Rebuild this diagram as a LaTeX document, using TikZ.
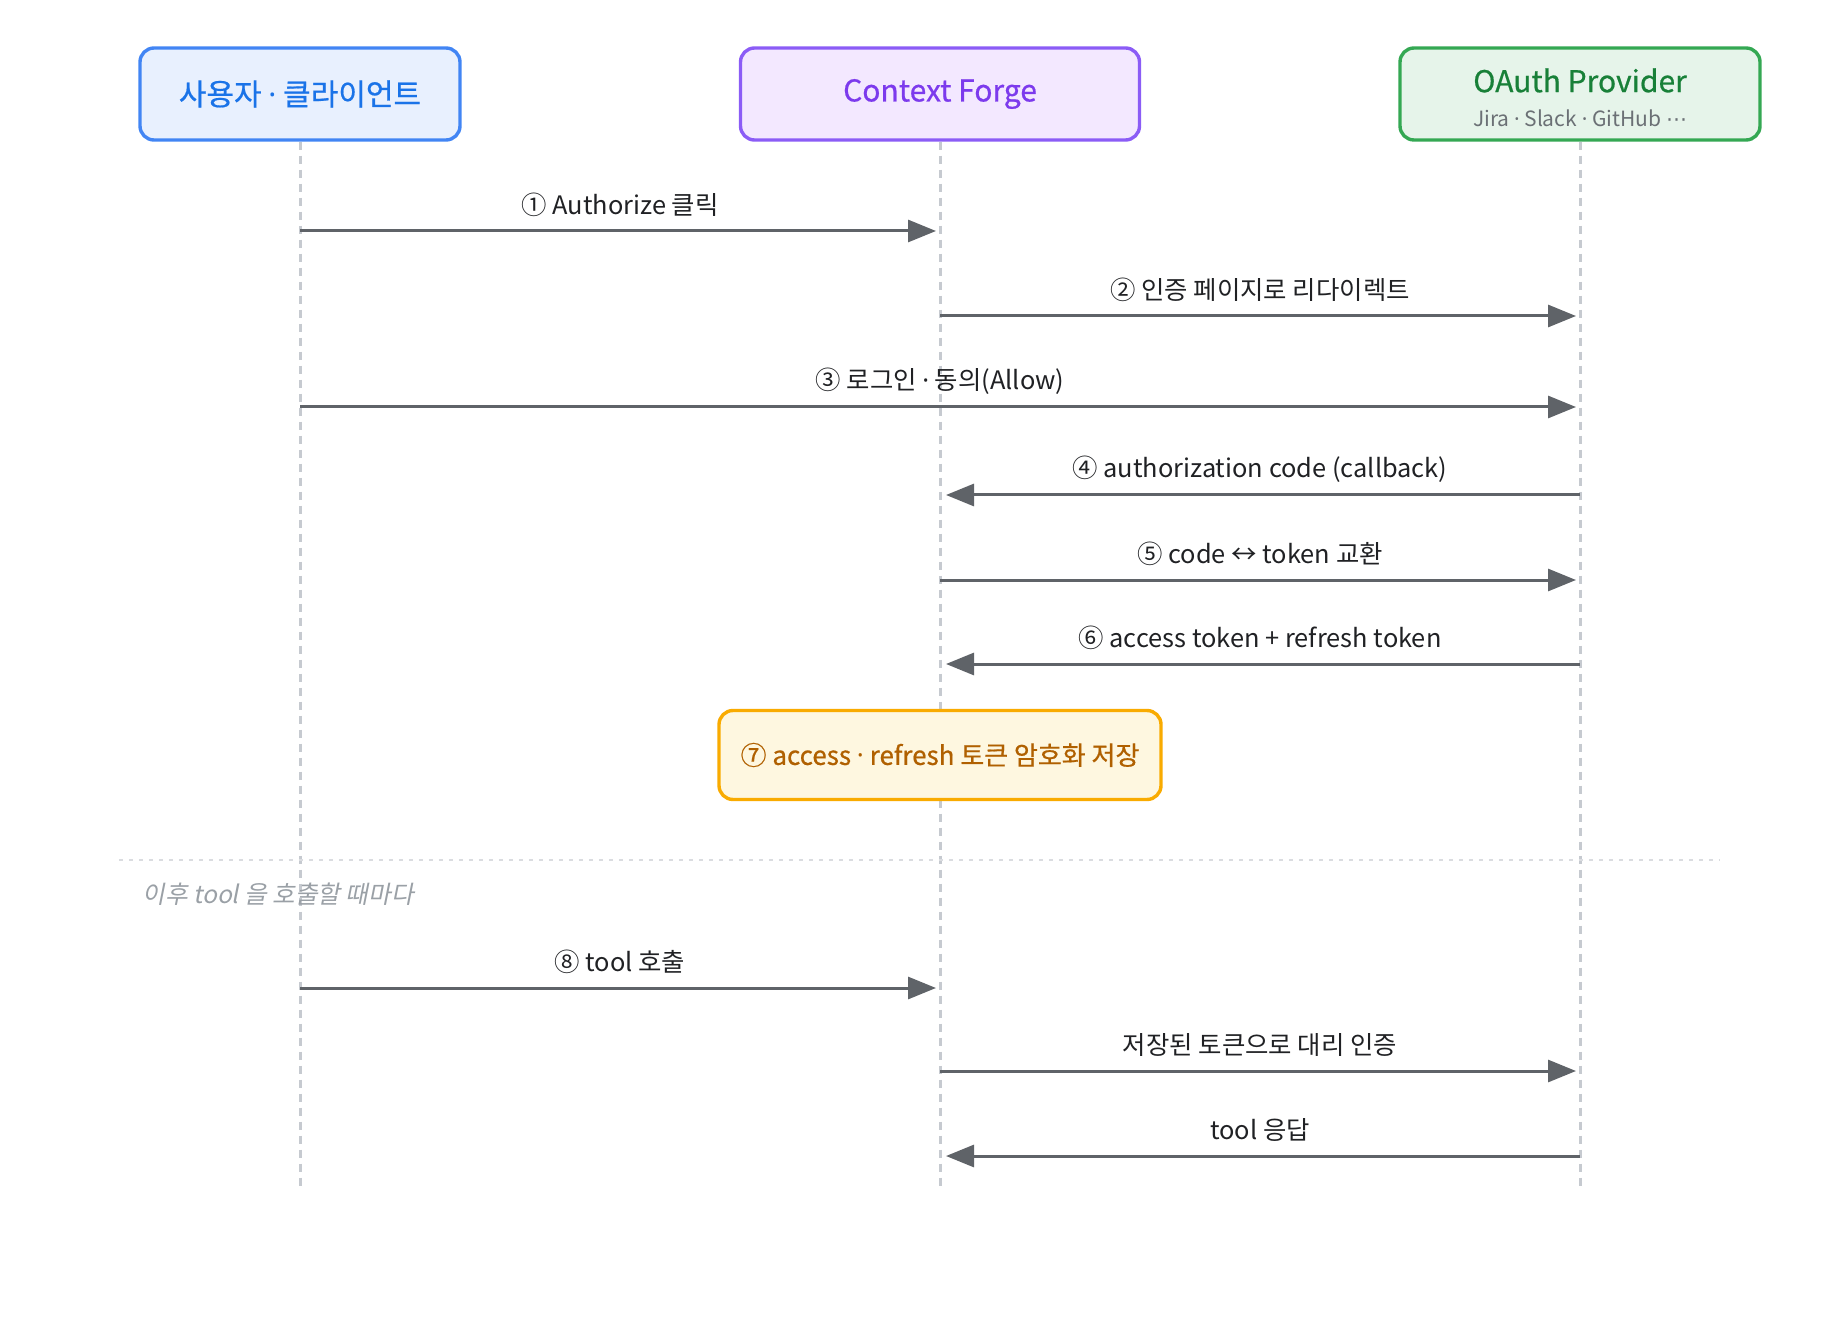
\documentclass[tikz,border=0pt]{standalone}
\usepackage{fontspec}
\setmainfont{Noto Sans CJK KR}
\newfontfamily\slfont[FakeSlant=0.2]{Noto Sans CJK KR}
\newfontfamily\medfont[FakeBold=0.6]{Noto Sans CJK KR}
\newfontfamily\latfont{Noto Sans}
\newfontfamily\symfont{DejaVu Sans}
\newcommand{\md}{{\latfont ·}}
\usetikzlibrary{arrows.meta,positioning}
\definecolor{ublue}{HTML}{4285F4}
\definecolor{ubluefill}{HTML}{E8F0FE}
\definecolor{ubluetxt}{HTML}{1A73E8}
\definecolor{fpurple}{HTML}{8B5CF6}
\definecolor{fpurplefill}{HTML}{F3E8FF}
\definecolor{fpurpletxt}{HTML}{7C3AED}
\definecolor{pgreen}{HTML}{34A853}
\definecolor{pgreenfill}{HTML}{E6F4EA}
\definecolor{pgreentxt}{HTML}{188038}
\definecolor{sorange}{HTML}{F9AB00}
\definecolor{sorangefill}{HTML}{FEF7E0}
\definecolor{sorangetxt}{HTML}{B06000}
\definecolor{arr}{HTML}{5F6368}
\definecolor{txt}{HTML}{202124}
\definecolor{subgray}{HTML}{6B7075}
\definecolor{lifec}{HTML}{C6CAD0}
\definecolor{sepc}{HTML}{DADCE0}
\definecolor{notec}{HTML}{9AA0A6}
\tikzset{
  every node/.style={font=\fontsize{12.7}{15}\selectfont,text=txt},
  actor/.style={rounded corners=7pt,line width=1.7pt,minimum height=46pt,align=center,inner sep=0pt,
    font=\medfont\fontsize{15}{18}\selectfont},
  life/.style={draw=lifec,line width=1.5pt,dash pattern=on 4pt off 3pt},
  msg/.style={-{Triangle[length=14pt,width=11pt]},draw=arr,line width=1.5pt,shorten >=2pt},
  mlab/.style={midway,yshift=13pt},
  store/.style={draw=sorange,fill=sorangefill,text=sorangetxt,rounded corners=7pt,line width=1.7pt,
    minimum width=221pt,minimum height=44.5pt,inner sep=0pt,font=\medfont\fontsize{13}{16}\selectfont},
  sep/.style={draw=sepc,line width=1pt,dash pattern=on 2pt off 3pt},
}

\begin{document}
\begin{tikzpicture}[x=0.5pt,y=-0.5pt]
  \useasboundingbox (0,0) rectangle (1840,1320);

  % participants
  \node[actor,draw=ublue,fill=ubluefill,text=ubluetxt,minimum width=160pt] (user) at (300,94) {사용자 \md{} 클라이언트};
  \node[actor,draw=fpurple,fill=fpurplefill,text=fpurpletxt,minimum width=199.5pt] (forge) at (940,94) {Context Forge};
  \node[actor,draw=pgreen,fill=pgreenfill,text=pgreentxt,minimum width=180pt] (prov) at (1580,94)
    {\rule{0pt}{15.3pt}OAuth Provider\\[-1pt]{\normalfont\fontsize{10.5}{12}\selectfont\color{subgray}Jira \md{} Slack \md{} GitHub {\symfont ⋯}}};

  % lifelines
  \coordinate (bottom) at (0,1189);
  \foreach \p in {user,forge,prov}
    \draw[life] (\p.south) -- (\p |- bottom);

  % row heights
  \coordinate (r1) at (0,231);
  \coordinate (r2) at (0,316);
  \coordinate (r3) at (0,407);
  \coordinate (r4) at (0,495);
  \coordinate (r5) at (0,580);
  \coordinate (r6) at (0,664);
  \coordinate (r8) at (0,988);
  \coordinate (r9) at (0,1071);
  \coordinate (r10) at (0,1156);

  % OAuth flow
  \draw[msg] (user |- r1) -- (forge |- r1) node[mlab] {① Authorize 클릭};
  \draw[msg] (forge |- r2) -- (prov |- r2) node[mlab] {② 인증 페이지로 리다이렉트};
  \draw[msg] (user |- r3) -- (prov |- r3) node[mlab] {③ 로그인 \md{} 동의(Allow)};
  \draw[msg,shorten >=3pt] (prov |- r4) -- (forge |- r4) node[mlab] {④ authorization code (callback)};
  \draw[msg] (forge |- r5) -- (prov |- r5) node[mlab] {⑤ code ↔ token 교환};
  \draw[msg,shorten >=3pt] (prov |- r6) -- (forge |- r6) node[mlab] {⑥ access token + refresh token};

  % token storage
  \node[store] (save) at (forge |- 0,755) {⑦ access \md{} refresh 토큰 암호화 저장};

  % later calls
  \draw[sep] (119,860) -- (1720,860);
  \node[anchor=west,inner sep=0pt,text=notec,font=\slfont\fontsize{12.3}{14}\selectfont] (later) at (142,894) {이후 tool 을 호출할 때마다};

  \draw[msg] (user |- r8) -- (forge |- r8) node[mlab] {⑧ tool 호출};
  \draw[msg] (forge |- r9) -- (prov |- r9) node[mlab] {저장된 토큰으로 대리 인증};
  \draw[msg,shorten >=3pt] (prov |- r10) -- (forge |- r10) node[mlab] {tool 응답};
\end{tikzpicture}
\end{document}
